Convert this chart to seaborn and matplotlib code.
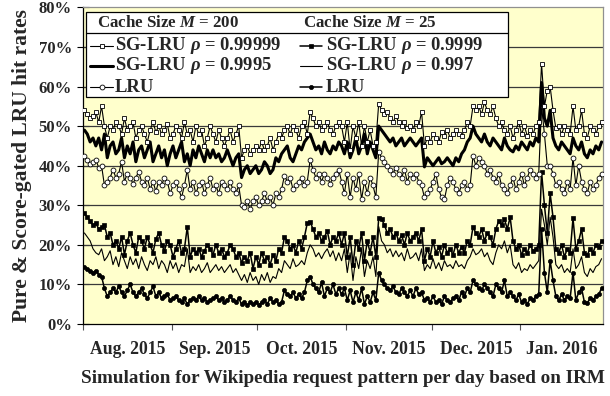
import numpy as np
import pandas as pd
import matplotlib
matplotlib.use("Agg")
import matplotlib.pyplot as plt
import seaborn as sns
from matplotlib.lines import Line2D
from matplotlib.patches import Rectangle

# ---------------- data ----------------
n_days = 182  # 1 Aug 2015 .. 30 Jan 2016
month_labels = ["Aug. 2015", "Sep. 2015", "Oct. 2015", "Nov. 2015", "Dec. 2015", "Jan. 2016"]
month_starts = [0, 31, 61, 92, 122, 153]
y_ticks = [0, 10, 20, 30, 40, 50, 60, 70, 80]

# Cache size M = 200, SG-LRU rho = 0.99999
sg200_a = [54, 53, 52, 52.5, 53.5, 51, 55, 50, 47, 50,
           49, 51, 50, 48, 52, 49, 50, 51, 47, 49,
           50, 48, 46, 49, 51, 48.5, 50, 48, 49, 50.5,
           47, 48, 50, 49, 47, 51, 48, 49, 46, 50,
           48, 49, 45, 47, 50, 48, 46, 49, 47, 45,
           47, 49, 46, 48, 50, 42, 44, 45, 43, 44,
           45, 44, 46, 44, 45, 47, 44, 46, 48, 47,
           49, 50, 48, 50, 49, 47, 50, 51, 48, 53.5,
           52, 50, 51, 49, 50, 51, 49, 48, 50, 51,
           50, 46, 51, 44, 50, 47, 51, 45, 50, 46,
           49, 45, 46, 55.7, 54, 53, 53.5, 52, 51, 52.5,
           51, 50, 51, 49.5, 50, 49, 51, 50, 53.6, 45,
           47, 46, 48, 47, 46, 48.5, 47.5, 49, 47, 48,
           49, 48, 47.5, 49, 51, 50, 55, 54, 55, 53,
           56, 54, 53, 55, 52, 50, 51, 49, 48, 50,
           47, 49, 51, 48, 50, 47.5, 49, 48, 50, 51,
           65.7, 55, 59, 60, 54, 49.5, 50, 48, 50, 49,
           48, 55, 49, 50, 54, 48, 47, 50, 49, 48,
           50, 51]

# Cache size M = 200, SG-LRU rho = 0.9995
sg200_b = [49, 48, 46, 47, 45, 47, 44, 48, 42, 45,
           46, 43, 44, 47, 42, 45, 43, 46, 41, 44,
           45, 42, 44, 46, 41, 43, 45, 42, 44, 40,
           43, 45, 42, 44, 46, 41, 43, 40, 44, 42,
           45, 43, 41, 44, 42, 44, 42, 43, 41, 42,
           44, 42, 40, 42, 43, 37, 39, 40, 38, 39,
           40, 38, 39, 41, 40, 38, 39, 42, 41, 43,
           44, 45, 42, 41, 43, 45, 44, 46, 47, 48,
           46, 44, 45, 43, 46, 44, 43, 45, 44, 46,
           45, 43, 46, 42, 44, 47, 43, 45, 48, 43,
           46, 44, 42, 50, 49, 48, 47, 46, 47, 45,
           46, 47, 45, 46, 47, 46, 45, 46, 47, 39.7,
           42, 41, 40, 41, 42, 40.5, 41, 42, 41, 40,
           42, 41, 43, 44, 46, 47, 50, 48, 47, 46,
           48, 46, 45, 47, 46, 45, 44, 47, 45, 44,
           43.5, 45, 44, 46, 45, 44, 46, 45, 47, 46,
           61, 52, 50, 54, 47, 45, 44, 46, 45, 44,
           43, 47, 45, 44, 46, 43, 42, 44, 43, 45,
           44, 46]

# Cache size M = 200, pure LRU
lru200 = [42.5, 41.5, 40.5, 41, 41.5, 39.5, 40, 35, 36, 37,
          39, 37, 38, 41, 36, 38, 37, 35.5, 37, 38.5,
          36, 35, 37, 34, 36, 33.5, 36, 35, 37, 36,
          33, 35, 36, 34, 32, 35, 39, 34, 36, 33,
          35, 36, 33, 35, 37, 34, 35, 33, 36, 35,
          34, 36, 34, 33, 35, 30, 29.5, 31, 29, 31,
          32, 30, 31, 33, 31, 32, 30, 33, 32, 34,
          37.5, 36, 37, 34, 35, 36, 37, 35, 36, 41.5,
          39, 37, 38, 36, 38, 37, 35.5, 37, 38, 39,
          36, 33, 38, 32, 37, 34, 38, 31.5, 36, 33,
          37, 35, 32, 43.5, 42, 41, 40, 39, 38, 39.5,
          38, 37, 39, 36, 38, 37, 38, 36, 35, 32,
          33, 34, 36, 38, 34, 32, 31.5, 35, 37, 36,
          34, 33, 35, 36, 34, 35, 42.5, 40, 42, 41,
          40, 38, 39, 37, 36, 38, 35, 34, 33, 35,
          37, 34, 36, 38, 35, 37, 39, 38, 37, 38,
          55, 48, 40, 40, 38, 35, 36, 34, 33, 36,
          34, 42, 35, 40, 36, 34, 33, 36, 34, 35,
          37, 38]

# Cache size M = 25, SG-LRU rho = 0.9999
sg25_a = [28, 27, 26, 25, 25.5, 24, 24.5, 25, 22, 23,
          20, 21, 19, 22, 17.5, 21, 23, 20, 18, 22,
          21, 19, 22, 20, 18, 21.5, 23, 20, 18.5, 21,
          20, 17, 19, 21, 18, 19, 24.5, 17, 19, 18,
          19, 17, 18.5, 20, 19, 17.5, 20, 18, 19, 17,
          18, 20, 19, 17, 18, 15.5, 17, 16, 18, 14,
          17, 15, 18, 16, 17, 15, 17.5, 16, 19, 18,
          22, 21, 19, 20, 18, 21, 19, 22, 25.5, 25.8,
          24, 22, 23, 21, 22, 23.5, 20, 22, 21, 23,
          20, 23, 17, 22, 15, 21, 19, 23, 16, 21,
          18, 22, 17, 26.7, 26.5, 25, 23, 24, 22, 23,
          21, 22.5, 20, 23, 21, 22, 23, 21, 24, 16,
          19, 17, 21, 18, 19.5, 17, 20, 18, 19, 17.5,
          20, 18, 19.5, 18, 21, 20, 24.5, 23, 22, 24,
          21, 23, 22, 20, 24, 26, 25, 26.5, 24, 27,
          21, 19, 20, 17.5, 19, 18, 20, 18.5, 19, 20,
          38.4, 30, 23, 33, 27, 19, 18, 20, 17, 19,
          18, 26.7, 19, 21, 24, 18, 17.5, 19, 18, 20,
          19.5, 21]

# Cache size M = 25, SG-LRU rho = 0.997
sg25_b = [23, 22, 21, 19, 18, 17.5, 19, 16, 17, 18.5,
          15, 17, 14.5, 18, 16, 14, 17, 15, 16.5, 14,
          17, 15, 13.5, 16, 15, 17, 14, 16, 15, 13,
          16, 14, 15.5, 13, 15, 14.5, 19, 13, 14.5, 13.5,
          15, 13, 14, 15.5, 13, 14, 15, 13.5, 14.5, 13,
          14, 15, 13, 14, 12.5, 11, 12.5, 10.5, 13, 11,
          12, 10, 12.5, 11, 13, 10.5, 12, 11.5, 14, 13,
          16, 15, 14, 16.5, 14.5, 15, 16, 15, 18, 20,
          19, 17, 18, 16.5, 18, 19, 17, 18.5, 16, 18,
          16, 19, 13, 18, 11, 17, 14, 19, 12, 16,
          14, 17, 12, 24.6, 21, 20, 18, 19, 17, 18.5,
          17, 18, 16, 19, 16.5, 17, 18, 16, 19, 13.5,
          15, 14, 16.5, 14, 15.5, 13.5, 16, 14.5, 15, 14,
          16, 14.5, 15, 14, 16, 17, 19, 17.5, 18, 19,
          17, 18, 16, 15, 18, 20, 19, 21, 18, 20,
          15, 14, 15.5, 13, 14, 13.5, 15, 14, 15, 16,
          29, 25, 20, 27, 22, 15, 14, 15, 13, 14,
          13, 19, 14, 15, 17, 13, 12, 14, 13, 14.5,
          15, 16.5]

# Cache size M = 25, pure LRU
lru25 = [14.5, 14, 13.5, 13, 13.5, 12.5, 12, 9, 7, 8,
         9, 8, 9.5, 8, 7, 8.5, 10, 8, 7, 8,
         9, 7.5, 6.5, 8, 9.5, 7, 8, 6.5, 7, 7.5,
         6, 6.5, 7, 6, 5.5, 6.5, 5, 6, 6.5, 6,
         7, 6, 6.5, 5.5, 6, 6.5, 7, 6, 6.5, 5.5,
         6, 7, 6, 5.5, 6.5, 5, 5.5, 4.8, 5.5, 5,
         5.5, 4.8, 5.5, 6, 5, 6.5, 5.5, 6, 5, 5.5,
         8.5, 7.5, 7, 8, 6.5, 7.5, 6.5, 8, 11, 12,
         10, 9, 8, 10.5, 7, 9, 8, 10, 7.5, 9,
         7.5, 9, 6, 8.5, 5.5, 8, 6, 9, 5, 7,
         5.5, 8, 6, 13, 11, 10, 9, 8.5, 9.5, 8,
         7.5, 9, 8, 7, 8.5, 7, 9, 7.5, 8, 6,
         6.5, 5.5, 7, 5.5, 6, 5, 7, 6, 5.5, 6.5,
         7, 6, 8, 7, 9, 8, 11, 10, 9, 8.5,
         10, 9, 8, 7, 10, 9, 8, 11, 7, 8,
         7, 6, 7.5, 5.5, 6, 5, 6.5, 6, 7, 7.5,
         24, 13, 8, 16, 11, 7, 6, 7.5, 6, 7,
         6.5, 13, 6, 8, 9, 5.5, 5.3, 6.5, 6, 7,
         7.5, 9]

for arr in (sg200_a, sg200_b, lru200, sg25_a, sg25_b, lru25):
    assert len(arr) == n_days, len(arr)

label_200_a = "SG-LRU $\\rho$ = 0.99999"
label_200_b = "SG-LRU $\\rho$ = 0.9995"
label_200_c = "LRU"
label_25_a = "SG-LRU $\\rho$ = 0.9999"
label_25_b = "SG-LRU $\\rho$ = 0.997"
label_25_c = "LRU"
header_200 = "Cache Size $\\mathbfit{M}$ = 200"
header_25 = "Cache Size $\\mathbfit{M}$ = 25"

# ---------------- style ----------------
sns.set_theme(style="white")
plt.rcParams["font.family"] = ["Liberation Serif", "DejaVu Serif"]
plt.rcParams["font.weight"] = "bold"
plt.rcParams["mathtext.fontset"] = "custom"
plt.rcParams["mathtext.rm"] = "Liberation Serif"
plt.rcParams["mathtext.it"] = "Liberation Serif:italic"
plt.rcParams["mathtext.bf"] = "Liberation Serif:bold"
plt.rcParams["mathtext.bfit"] = "Liberation Serif:italic:bold"

W, H = 610, 396
fig = plt.figure(figsize=(W / 100, H / 100), dpi=100)
L, R, T, B = 83, 603, 7.4, 324
ax = fig.add_axes([L / W, 1 - B / H, (R - L) / W, (B - T) / H])
ax.set_facecolor("#FFFFCC")

df = pd.DataFrame({
    "day": np.arange(n_days) + 0.5,
    "sg200_a": sg200_a, "sg200_b": sg200_b, "lru200": lru200,
    "sg25_a": sg25_a, "sg25_b": sg25_b, "lru25": lru25,
})

styles = {
    "sg200_a": dict(lw=0.8, marker="s", ms=3.3, mfc="white", mec="black", mew=0.6),
    "sg200_b": dict(lw=2.2, marker=None),
    "lru200": dict(lw=0.8, marker="o", ms=3.5, mfc="white", mec="black", mew=0.6),
    "sg25_a": dict(lw=1.1, marker="s", ms=2.8, mfc="black", mec="black", mew=0.5),
    "sg25_b": dict(lw=0.8, marker=None),
    "lru25": dict(lw=1.1, marker="o", ms=3.0, mfc="black", mec="black", mew=0.5),
}

for col in ["lru25", "sg25_b", "sg25_a", "lru200", "sg200_b", "sg200_a"]:
    st = styles[col]
    kw = dict(color="black", linewidth=st["lw"])
    if st["marker"]:
        kw.update(marker=st["marker"], markersize=st["ms"], markerfacecolor=st["mfc"],
                  markeredgecolor=st["mec"], markeredgewidth=st["mew"])
    sns.lineplot(data=df, x="day", y=col, ax=ax, legend=False, zorder=3, **kw)

ax.set_xlim(0, n_days)
ax.set_ylim(0, 80)
ax.set_yticks(y_ticks)
ax.set_yticklabels([f"{v}%" for v in y_ticks], fontsize=12, fontweight="bold")
for v in y_ticks[1:-1]:
    ax.axhline(v, color="#3a3a3a", lw=0.9, zorder=1)

ax.set_xticks(month_starts)
ax.set_xticklabels([])
mids = [(month_starts[i] + (month_starts[i + 1] if i + 1 < len(month_starts) else n_days)) / 2
        for i in range(len(month_starts))]
ax.set_xticks(mids, minor=True)
ax.set_xticklabels(month_labels, minor=True, fontsize=12.7, fontweight="bold")
ax.tick_params(axis="x", which="major", direction="out", length=4, width=0.8, color="#555555",
               bottom=True)
ax.tick_params(axis="x", which="minor", length=0, pad=12, bottom=True)
ax.tick_params(axis="y", direction="inout", length=8, width=0.8, color="black", pad=4, left=True)

for s in ["left", "bottom"]:
    ax.spines[s].set_color("black")
    ax.spines[s].set_linewidth(0.9)
for s in ["top", "right"]:
    ax.spines[s].set_color("#909090")
    ax.spines[s].set_linewidth(0.9)

ax.set_xlabel("Simulation for Wikipedia request pattern per day based on IRM",
              fontsize=13.8, fontweight="bold", labelpad=9)
ax.set_ylabel("Pure & Score-gated LRU hit rates", fontsize=15.5, fontweight="bold", labelpad=5)


# ---------------- legend (drawn by hand) ----------------
def axc(px, py):
    return ((px - L) / (R - L), (B - py) / (B - T))

x0, y0 = axc(86, 97)
x1, y1 = axc(508, 11.7)
ax.add_patch(Rectangle((x0, y0), x1 - x0, y1 - y0, transform=ax.transAxes,
                       facecolor="white", edgecolor="black", lw=0.9, zorder=5, clip_on=False))
hx0, hy = axc(86, 33)
hx1, _ = axc(508, 33)
ax.add_line(Line2D([hx0, hx1], [hy, hy], transform=ax.transAxes, color="black", lw=0.9,
                   zorder=6, clip_on=False))

fs_leg = 13.4
for hx, htxt in [(97, header_200), (303, header_25)]:
    tx, ty = axc(hx, 23)
    ax.text(tx, ty, htxt, transform=ax.transAxes, fontsize=12.2, fontweight="bold",
            va="center", ha="left", zorder=7)

entries = [
    (90, 113, 115, 46, "sg200_a", label_200_a),
    (90, 113, 115, 66, "sg200_b", label_200_b),
    (90, 113, 115, 87, "lru200", label_200_c),
    (300, 322, 326, 46, "sg25_a", label_25_a),
    (300, 322, 326, 66, "sg25_b", label_25_b),
    (300, 322, 326, 87, "lru25", label_25_c),
]
for hx_a, hx_b, tx_px, ry, col, lab in entries:
    st = styles[col]
    xa, yy = axc(hx_a, ry)
    xb, _ = axc(hx_b, ry)
    ax.add_line(Line2D([xa, xb], [yy, yy], transform=ax.transAxes, color="black",
                       lw=st["lw"], zorder=7, clip_on=False))
    if st["marker"]:
        ax.add_line(Line2D([(xa + xb) / 2], [yy], transform=ax.transAxes, linestyle="none",
                           marker=st["marker"], markersize=st["ms"], markerfacecolor=st["mfc"],
                           markeredgecolor=st["mec"], markeredgewidth=st["mew"],
                           zorder=8, clip_on=False))
    tx, ty = axc(tx_px, ry)
    ax.text(tx, ty, lab, transform=ax.transAxes, fontsize=fs_leg, fontweight="bold",
            va="center", ha="left", zorder=7)

fig.savefig("out.png", dpi=100, facecolor="white")
